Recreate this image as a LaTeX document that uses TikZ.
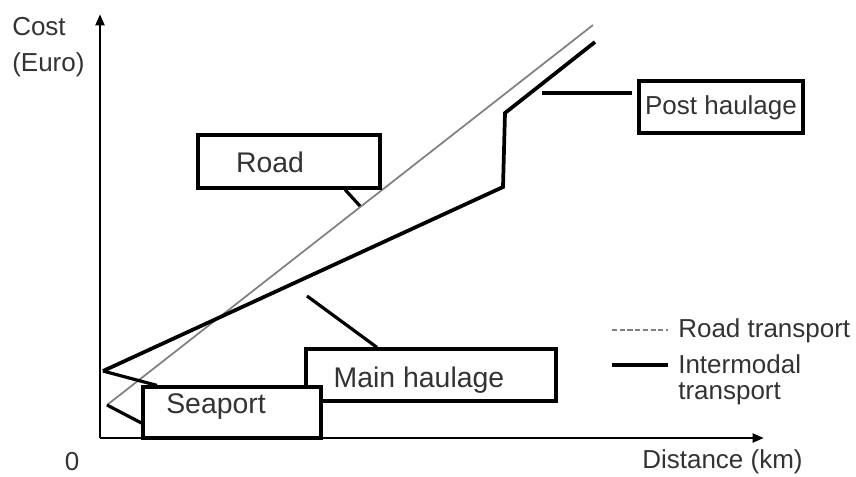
\documentclass[tikz,border=0pt]{standalone}
\usepackage{fontspec}
\setmainfont{Liberation Sans}
\usetikzlibrary{arrows.meta,fit}
\begin{document}
\begin{tikzpicture}[x=0.75pt,y=-0.75pt,
  lbl/.style={font=\fontsize{19.5}{23}\selectfont, inner sep=0pt, text=black!80},
  biglbl/.style={lbl, font=\fontsize{21.3}{25}\selectfont},
  boxfr/.style={draw, line width=2.4pt, fill=white, inner sep=0pt},
  axisline/.style={line width=2.2pt, -{Triangle[length=8.5pt,width=6.5pt]}},
  inter/.style={line width=2.8pt, line join=miter},
  roadln/.style={line width=1.3pt, black!50},
  callout/.style={line width=2.4pt}]
\useasboundingbox (0,0) rectangle (856,476);

% axes
\coordinate (origin) at (100,438);
\coordinate (ytip) at (100,14);
\coordinate (xtip) at (764,438);
\draw[axisline] (origin) -- (ytip);
\draw[axisline] (origin) -- (xtip);
\node[lbl, anchor=west] (cost) at (12,27) {Cost};
\node[lbl, anchor=west] (euro) at (12,65) {(Euro)};
\node[lbl] (zero) at (72,462) {0};
\node[lbl, anchor=west] (dist) at (642,462) {Distance (km)};

% cost curves
\coordinate (r0) at (107,405);
\coordinate (r1) at (593,25);
\draw[roadln] (r0) -- (r1);
\coordinate (i0) at (103,371);
\coordinate (i1) at (503,187);
\coordinate (i2) at (505,113);
\coordinate (i3) at (595,42);
\draw[inter] (i0) -- (i1) -- (i2) -- (i3);

% Road label
\node[boxfr, fit={(198,135) (380,188)}] (roadbox) {};
\node[biglbl] (roadtxt) at (270,162) {Road};
\coordinate (roadpt) at (360,206);
\draw[callout] (roadbox.south -| 345,0) -- (roadpt);

% Post haulage label
\node[boxfr, fit={(639,81) (803,133)}] (postbox) {};
\node[lbl] (posttxt) at (721,108) {Post haulage};
\coordinate (postpt) at (542,93);
\coordinate (postend) at (632,93);
\draw[callout] (postpt) -- (postend);

% Main haulage label
\node[boxfr, fit={(306,349) (556,401)}] (mainbox) {};
\node[biglbl] (maintxt) at (419,380) {Main haulage};
\coordinate (mainpt) at (307,296);
\draw[callout] (mainbox.north -| 377,0) -- (mainpt);

% Seaport label
\node[boxfr, fit={(143,387) (321,438)}] (seabox) {};
\node[biglbl] (seatxt) at (216,407) {Seaport};
\draw[callout] (seabox.north -| 157,0) -- (i0);
\draw[callout] (seabox.west |- 0,423) -- (r0);

% legend
\coordinate (l1a) at (612,330);
\coordinate (l1b) at (668,330);
\draw[line width=1.8pt, black!50, dash pattern=on 3.8pt off 2pt] (l1a) -- (l1b);
\node[lbl, anchor=west] (legroad) at (678,331) {Road transport};
\coordinate (l2a) at (612,365);
\coordinate (l2b) at (668,365);
\draw[inter] (l2a) -- (l2b);
\node[lbl, anchor=west] (leginter1) at (678,364) {Intermodal};
\node[lbl, anchor=west] (leginter2) at (678,394) {transport};
\end{tikzpicture}
\end{document}
